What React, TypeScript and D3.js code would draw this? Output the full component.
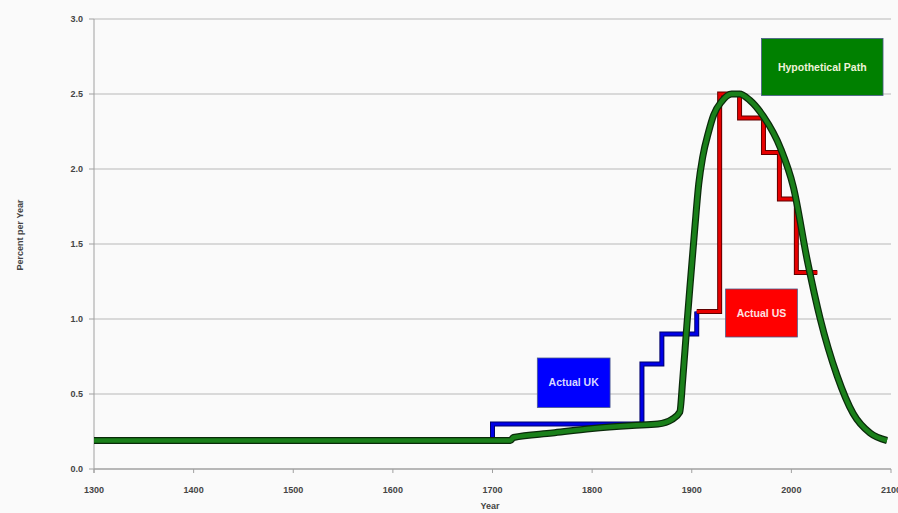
import React from "react";
import * as d3 from "d3";

// UK step series (start year of each level, level)
const ukYears = [1300, 1700, 1850, 1870, 1905];
const ukValues = [0.19, 0.3, 0.7, 0.9, 1.05];

// US step series
const usYears = [1905, 1928, 1948, 1972, 1988, 2005, 2026];
const usValues = [1.05, 2.5, 2.34, 2.11, 1.8, 1.31, 1.31];

// hypothetical smooth path
const hypYears = [
  1300, 1718, 1721, 1760, 1800, 1840, 1866, 1880, 1888, 1891, 1895, 1898,
  1903, 1907, 1911, 1917, 1922, 1930, 1940, 1948, 1958, 1972, 1989, 2002,
  2016, 2029, 2046, 2062, 2079, 2096,
];
const hypValues = [
  0.19, 0.19, 0.21, 0.24, 0.27, 0.29, 0.3, 0.33, 0.38, 0.6, 0.95, 1.2, 1.6,
  1.9, 2.08, 2.25, 2.36, 2.45, 2.5, 2.5, 2.46, 2.35, 2.14, 1.88, 1.39, 1.0,
  0.62, 0.37, 0.24, 0.19,
];

const xTicks = [1300, 1400, 1500, 1600, 1700, 1800, 1900, 2000, 2100];
const yTicks = [0, 0.5, 1, 1.5, 2, 2.5, 3];

const labels = [
  { text: "Hypothetical Path", x0: 1970, y0: 2.87, x1: 2092, y1: 2.49, fill: "#008000", color: "#eef3d8" },
  { text: "Actual US", x0: 1934, y0: 1.2, x1: 2006, y1: 0.88, fill: "#ff0000", color: "#fde0e0" },
  { text: "Actual UK", x0: 1745, y0: 0.74, x1: 1818, y1: 0.41, fill: "#0000ff", color: "#d8d8ff" },
];

const W = 898;
const H = 513;
const font = "'Liberation Sans Narrow', 'Arial Narrow', 'Liberation Sans', Arial, sans-serif";

export default function App() {
  const x = d3.scaleLinear().domain([1300, 2100]).range([94, 891]);
  const y = d3.scaleLinear().domain([0, 3]).range([469, 19]);

  const ukPath = d3
    .line<number>()
    .x((d) => x(ukYears[d]))
    .y((d) => y(ukValues[d]))
    .curve(d3.curveStepAfter)(ukYears.map((_, i) => i));
  const usPath = d3
    .line<number>()
    .x((d) => x(usYears[d]))
    .y((d) => y(usValues[d]))
    .curve(d3.curveStepAfter)(usYears.map((_, i) => i));
  const hypPath = d3
    .line<number>()
    .x((d) => x(hypYears[d]))
    .y((d) => y(hypValues[d]))
    .curve(d3.curveMonotoneX)(hypYears.map((_, i) => i));

  return (
    <svg
      width={W}
      height={H}
      style={{ position: "absolute", left: 0, top: 0, display: "block" }}
      fontFamily={font}
    >
      <rect x={0} y={0} width={W} height={H} fill="#fafafa" />
      {yTicks.map((t) => (
        <g key={t}>
          {t > 0 && (
            <line x1={x(1300)} x2={x(2100)} y1={y(t)} y2={y(t)} stroke="#b8b8b8" strokeWidth={1} />
          )}
          <line x1={89} x2={x(1300)} y1={y(t)} y2={y(t)} stroke="#a0a0a0" strokeWidth={1} />
          <text x={83} y={y(t) + 3} textAnchor="end" fontSize={9} fontWeight="bold" fill="#444">
            {t.toFixed(1)}
          </text>
        </g>
      ))}
      <line x1={x(1300)} x2={x(1300)} y1={y(3)} y2={y(0) + 4} stroke="#a0a0a0" strokeWidth={1} />
      <line x1={x(1300)} x2={x(2100)} y1={y(0)} y2={y(0)} stroke="#a0a0a0" strokeWidth={1.5} />
      {xTicks.map((t) => (
        <g key={t}>
          <line x1={x(t)} x2={x(t)} y1={y(0)} y2={y(0) + 4} stroke="#a0a0a0" strokeWidth={1} />
          <text x={x(t)} y={493} textAnchor="middle" fontSize={9} fontWeight="bold" fill="#444">
            {t}
          </text>
        </g>
      ))}
      <text x={490} y={509} textAnchor="middle" fontSize={9} fontWeight="bold" fill="#444">
        Year
      </text>
      <text
        transform={`translate(23,235) rotate(-90)`}
        textAnchor="middle"
        fontSize={9}
        fontWeight="bold"
        fill="#444"
      >
        Percent per Year
      </text>

      <path d={ukPath ?? ""} fill="none" stroke="#00006a" strokeWidth={5} strokeLinejoin="miter" />
      <path d={ukPath ?? ""} fill="none" stroke="#0000e6" strokeWidth={3} strokeLinejoin="miter" />
      <path d={usPath ?? ""} fill="none" stroke="#600000" strokeWidth={5} strokeLinejoin="miter" />
      <path d={usPath ?? ""} fill="none" stroke="#e60000" strokeWidth={3} strokeLinejoin="miter" />
      <path d={hypPath ?? ""} fill="none" stroke="#0a2a0a" strokeWidth={7} strokeLinejoin="round" />
      <path d={hypPath ?? ""} fill="none" stroke="#1a801a" strokeWidth={4.5} strokeLinejoin="round" />

      {labels.map((l) => (
        <g key={l.text}>
          <rect
            x={x(l.x0)}
            y={y(l.y0)}
            width={x(l.x1) - x(l.x0)}
            height={y(l.y1) - y(l.y0)}
            fill={l.fill}
            stroke="#4a5a8a"
            strokeWidth={0.8}
          />
          <text
            x={(x(l.x0) + x(l.x1)) / 2}
            y={(y(l.y0) + y(l.y1)) / 2 + 3.5}
            textAnchor="middle"
            fontSize={10.5}
            fontWeight="bold"
            fill={l.color}
          >
            {l.text}
          </text>
        </g>
      ))}
    </svg>
  );
}
